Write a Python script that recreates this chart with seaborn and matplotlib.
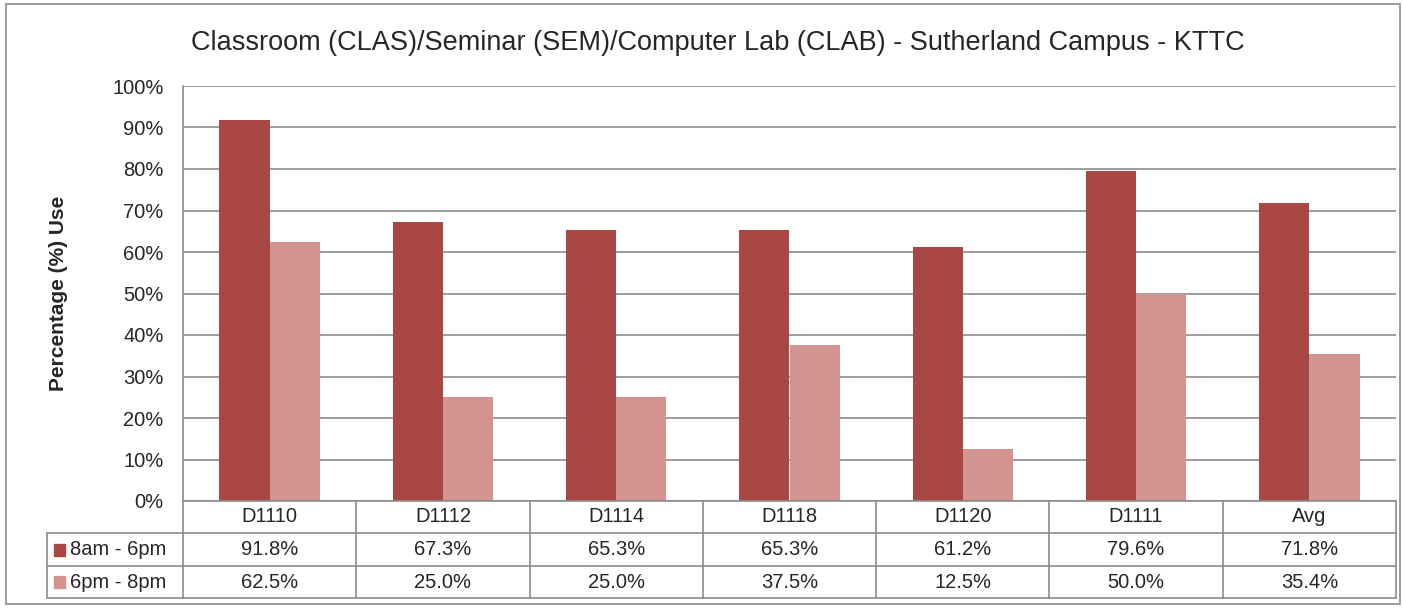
import numpy as np
import pandas as pd
import matplotlib
matplotlib.use("Agg")
import matplotlib.pyplot as plt
import seaborn as sns
from matplotlib.patches import Rectangle

# Data
rooms = ['D1110', 'D1112', 'D1114', 'D1118', 'D1120', 'D1111', 'Avg']
periods = ['8am - 6pm', '6pm - 8pm']
day_use = [91.8, 67.3, 65.3, 65.3, 61.2, 79.6, 71.8]
evening_use = [62.5, 25.0, 25.0, 37.5, 12.5, 50.0, 35.4]
colors = ['#A94744', '#D39391']

df = pd.DataFrame({
    'room': rooms * 2,
    'period': [periods[0]] * len(rooms) + [periods[1]] * len(rooms),
    'pct': day_use + evening_use,
})

sns.set_style('white')
plt.rcParams['font.family'] = ['Liberation Sans', 'DejaVu Sans']

W, H = 1403, 608
fig = plt.figure(figsize=(W / 100, H / 100), dpi=100)

# outer border of the chart
fig.patches.append(Rectangle((6 / W, 4 / H), 1394 / W, 600 / H, transform=fig.transFigure,
                             fill=False, edgecolor='#8c8c8c', linewidth=1.2))

# plot area
x0, x1, ytop, ybot = 183, 1396, 86, 501
ax = fig.add_axes([x0 / W, (H - ybot) / H, (x1 - x0) / W, (ybot - ytop) / H])
sns.barplot(data=df, x='room', y='pct', hue='period', palette=colors, width=0.58,
            saturation=1, legend=False, ax=ax, zorder=3, linewidth=0)
ax.set_ylim(0, 100)
ax.set_xlim(-0.5, len(rooms) - 0.5)
ax.set_yticks(np.arange(0, 101, 10))
ax.set_yticklabels([f'{v}%' for v in range(0, 101, 10)], fontsize=14.5)
ax.set_xticks([])
ax.set_xlabel('')
ax.set_ylabel('Percentage (%) Use', fontsize=15, fontweight='bold', labelpad=32)
ax.yaxis.grid(True, color='#8c8c8c', linewidth=1.2, zorder=0)
ax.set_axisbelow(True)
ax.tick_params(axis='y', length=0, pad=14)
for s in ['top', 'right', 'bottom']:
    ax.spines[s].set_visible(False)
ax.spines['left'].set_color('#8c8c8c')
ax.spines['left'].set_linewidth(1.2)

fig.text(718 / W, (H - 43) / H, 'Classroom (CLAS)/Seminar (SEM)/Computer Lab (CLAB) - Sutherland Campus - KTTC',
         ha='center', va='center', fontsize=19.5)

# data table below the plot
tl, tb = 47, 598
tax = fig.add_axes([tl / W, (H - tb) / H, (x1 - tl) / W, (tb - ybot) / H])
tax.set_xlim(tl, x1)
tax.set_ylim(tb, ybot)
tax.axis('off')
gc = '#8c8c8c'
cw = (x1 - x0) / len(rooms)
rows_y = [501, 533, 566, 598]
tax.plot([x0, x1], [rows_y[0], rows_y[0]], color=gc, lw=1.2, clip_on=False)
for yy in rows_y[1:]:
    tax.plot([tl, x1], [yy, yy], color=gc, lw=1.2, clip_on=False)
tax.plot([tl, tl], [rows_y[1], rows_y[3]], color=gc, lw=1.2, clip_on=False)
for i in range(len(rooms) + 1):
    xx = x0 + i * cw
    tax.plot([xx, xx], [rows_y[0], rows_y[3]], color=gc, lw=1.2, clip_on=False)

fs = 14.5
for i, room in enumerate(rooms):
    cx = x0 + (i + 0.5) * cw
    tax.text(cx, (rows_y[0] + rows_y[1]) / 2, room, ha='center', va='center', fontsize=fs)
    tax.text(cx, (rows_y[1] + rows_y[2]) / 2, f'{day_use[i]:.1f}%', ha='center', va='center', fontsize=fs)
    tax.text(cx, (rows_y[2] + rows_y[3]) / 2, f'{evening_use[i]:.1f}%', ha='center', va='center', fontsize=fs)

for r, (label, c) in enumerate(zip(periods, colors)):
    cy = (rows_y[r + 1] + rows_y[r + 2]) / 2
    tax.add_patch(Rectangle((54, cy - 6), 11, 12, color=c))
    tax.text(70, cy, label, ha='left', va='center', fontsize=fs)

fig.savefig('out.png', dpi=100)
